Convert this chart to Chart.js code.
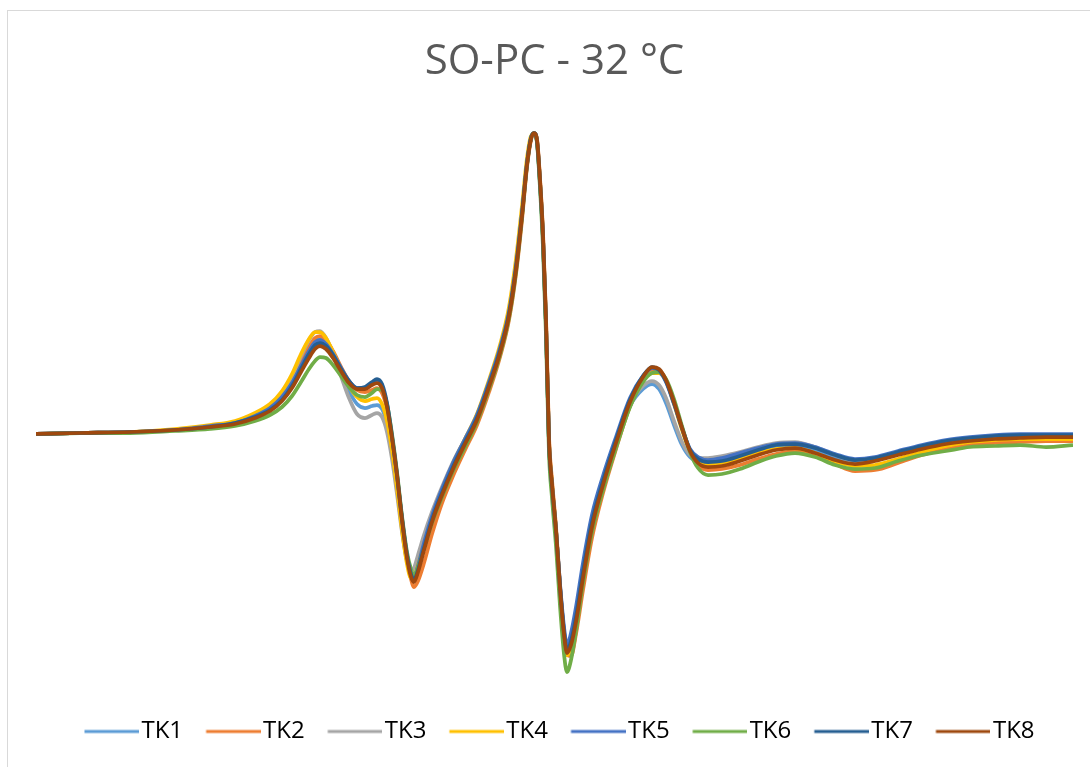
<!DOCTYPE html>
<html>
<head>
<meta charset="utf-8">
<script src="https://cdn.jsdelivr.net/npm/chart.js@4"></script>
<style>
  html, body { margin: 0; padding: 0; background: #fff; }
  #wrap { width: 1090px; height: 767px; }
</style>
</head>
<body>
<div id="wrap"><canvas id="c" width="1090" height="767"></canvas></div>
<script>
// Magnetic field (G)
const field = [3310.0, 3314.4, 3319.4, 3323.9, 3327.4, 3329.9, 3331.9, 3333.4, 3334.6, 3335.6,
  3336.5, 3337.3, 3337.9, 3338.4, 3339.0, 3339.7, 3340.5, 3341.3, 3342.1, 3342.9,
  3343.6, 3344.1, 3344.6, 3345.1, 3345.6, 3346.1, 3346.6, 3347.1, 3347.5, 3347.8,
  3348.2, 3348.8, 3349.6, 3350.6, 3351.7, 3352.9, 3354.1, 3355.3, 3356.4, 3357.3,
  3358.0, 3358.6, 3359.1, 3359.5, 3359.8, 3360.1, 3360.4, 3360.7, 3361.0, 3361.3,
  3361.6, 3362.0, 3362.4, 3362.8, 3363.1, 3363.5, 3364.0, 3364.7, 3365.6, 3366.7,
  3368.0, 3369.4, 3370.7, 3371.6, 3372.3, 3373.0, 3373.8, 3374.6, 3375.4, 3376.2,
  3377.2, 3378.6, 3380.4, 3382.2, 3384.0, 3385.9, 3387.9, 3389.9, 3391.9, 3393.9,
  3396.2, 3398.6, 3401.0, 3403.4, 3405.9, 3408.4, 3411.0, 3413.7];

const seriesNames = ["TK1", "TK2", "TK3", "TK4", "TK5", "TK6", "TK7", "TK8"];

const tk1 = [0,1,2,4,8,12,19,27,39,54, 72,87,95,96,91,79,61,43,30,26, 28,29,25,10,-18,-54,-94,-127,-142,-143,
  -130,-108,-82,-56,-31,-7,17,50,84,121, 167,220,270,296,301,293,252,196,110,-9,
  -52,-97,-153,-198,-216,-206,-181,-137,-89,-50, -11,28,45,50,45,31,9,-11,-23,-27,
  -27,-25,-21,-16,-12,-11,-16,-23,-28,-26, -20,-13,-8,-5,-4,-3,-3,-3];
const tk2 = [0,1,2,4,8,12,19,27,38,53, 71,87,96,98,94,83,67,53,44,42, 44,46,41,25,-5,-43,-86,-124,-145,-153,
  -147,-129,-100,-69,-42,-16,9,42,77,114, 160,214,267,294,301,295,256,202,118,-2,
  -46,-93,-151,-200,-221,-222,-200,-156,-104,-59, -15,28,55,64,63,54,32,6,-18,-31,
  -36,-35,-31,-25,-20,-17,-22,-30,-37,-36, -29,-21,-15,-11,-9,-8,-7,-7];
const tk3 = [0,1,2,4,8,12,20,29,42,58, 78,94,102,103,96,80,58,36,20,16, 19,21,17,2,-25,-60,-98,-127,-136,-134,
  -121,-101,-78,-53,-28,-5,19,51,85,122, 168,221,271,296,301,293,252,196,110,-9,
  -52,-97,-152,-197,-216,-207,-183,-139,-90,-50, -10,30,48,53,49,36,13,-8,-21,-24,
  -24,-22,-18,-13,-9,-8,-13,-21,-27,-26, -20,-14,-9,-6,-5,-4,-4,-4];
const tk4 = [0,1,2,5,9,13,21,30,43,60, 80,95,102,102,96,82,64,48,37,33, 35,36,30,13,-16,-54,-96,-130,-144,-144,
  -131,-111,-85,-57,-30,-5,20,54,89,127, 175,228,276,298,300,292,252,196,110,-8,
  -50,-96,-154,-202,-221,-212,-189,-145,-94,-53, -12,28,53,61,61,53,30,4,-17,-27,
  -30,-29,-25,-19,-15,-14,-19,-27,-32,-31, -25,-18,-12,-8,-6,-5,-5,-5];
const tk5 = [0,1,2,4,8,11,18,26,37,51, 68,83,92,94,90,80,66,53,46,46, 51,53,47,29,-3,-42,-85,-121,-139,-144,
  -132,-109,-82,-55,-29,-5,19,52,86,122, 168,221,271,296,301,292,250,194,108,-10,
  -52,-96,-150,-193,-211,-199,-173,-129,-81,-42, -3,36,58,66,63,52,30,6,-15,-23,
  -26,-24,-19,-14,-10,-9,-13,-20,-25,-23, -17,-11,-6,-3,-1,0,0,0];
const tk6 = [0,1,1,3,5,8,13,19,27,38, 52,65,73,77,76,69,58,47,39,37, 41,45,44,30,0,-38,-82,-118,-135,-141,
  -133,-115,-89,-63,-37,-13,12,45,79,116, 162,217,269,296,301,291,246,186,98,-20,
  -64,-112,-172,-220,-238,-226,-197,-149,-98,-56, -14,27,52,61,62,55,35,8,-18,-34,
  -41,-40,-35,-28,-22,-19,-23,-31,-35,-34, -27,-21,-17,-13,-12,-11,-13,-11];
const tk7 = [0,1,2,4,7,11,17,24,34,48, 65,80,89,91,88,79,65,53,46,47, 52,55,50,31,-2,-40,-84,-121,-140,-146,
  -136,-114,-86,-59,-33,-8,16,49,83,120, 166,220,270,296,301,293,252,196,110,-9,
  -52,-97,-153,-198,-216,-207,-183,-138,-88,-47, -6,34,58,67,64,53,31,6,-16,-25,
  -28,-27,-22,-16,-11,-10,-14,-21,-26,-24, -18,-12,-7,-4,-2,-1,-1,-1];
const tk8 = [0,1,2,4,7,10,16,23,33,46, 62,76,85,88,85,76,63,51,45,45, 49,51,46,27,-4,-41,-86,-124,-143,-148,
  -138,-116,-88,-61,-35,-10,14,47,81,118, 164,218,269,295,301,294,254,199,114,-6,
  -50,-96,-154,-200,-219,-211,-188,-144,-93,-51, -9,32,57,67,65,54,32,6,-17,-29,
  -33,-32,-27,-21,-16,-14,-19,-26,-30,-27, -21,-15,-10,-7,-5,-4,-3,-3];

const seriesValues = [tk1, tk2, tk3, tk4, tk5, tk6, tk7, tk8];
const colors = ["#5B9BD5", "#ED7D31", "#A5A5A5", "#FFC000", "#4472C4", "#70AD47", "#255E91", "#9E480E"];

function legendLine(color) {
  const cv = document.createElement('canvas');
  cv.width = 64; cv.height = 8;
  const g = cv.getContext('2d');
  g.strokeStyle = color; g.lineWidth = 3; g.lineCap = 'butt';
  g.beginPath(); g.moveTo(9.5, 4); g.lineTo(64, 4); g.stroke();
  return cv;
}
const legendImgs = colors.map(legendLine);

const datasets = seriesNames.map((name, i) => ({
  label: name,
  data: field.map((x, k) => ({ x: x, y: seriesValues[i][k] })),
  borderColor: colors[i],
  backgroundColor: colors[i],
  borderWidth: 3.75,
  pointRadius: 0,
  fill: false,
  cubicInterpolationMode: 'monotone',
  order: seriesNames.length - i
}));

const bgPlugin = {
  id: 'bg',
  afterLayout(chart) {
    // nudge the legend row slightly right, as in the original figure
    if (chart.legend) { chart.legend.left += 10; }
  },
  beforeDraw(chart) {
    const ctx = chart.ctx;
    ctx.save();
    ctx.fillStyle = '#ffffff';
    ctx.fillRect(0, 0, chart.width, chart.height);
    ctx.strokeStyle = '#d9d9d9';
    ctx.lineWidth = 1;
    ctx.strokeRect(7.5, 10.5, chart.width + 20, chart.height + 20);
    ctx.restore();
  }
};

new Chart(document.getElementById('c'), {
  type: 'line',
  data: { datasets },
  plugins: [bgPlugin],
  options: {
    responsive: false,
    animation: false,
    layout: { padding: { left: 36, right: 17, top: 0, bottom: 13.5 } },
    scales: {
      x: { type: 'linear', display: false, min: 3310.0, max: 3413.7 },
      y: { type: 'linear', display: false, min: -262.5, max: 330 }
    },
    plugins: {
      title: {
        display: true,
        text: 'SO-PC - 32 °C',
        color: '#595959',
        font: { family: 'Open Sans', size: 42, weight: 'normal' },
        padding: { top: 37, bottom: 16.6 }
      },
      legend: {
        display: true,
        position: 'bottom',
        labels: {
          sort: (a, b) => a.datasetIndex - b.datasetIndex,
          usePointStyle: true,
          pointStyleWidth: 45,
          padding: 23,
          color: '#000000',
          font: { family: 'Open Sans', size: 24 },
          generateLabels(chart) {
            const items = Chart.defaults.plugins.legend.labels.generateLabels(chart);
            items.forEach(it => { it.pointStyle = legendImgs[it.datasetIndex]; });
            return items;
          }
        }
      },
      tooltip: { enabled: false }
    }
  }
});
</script>
</body>
</html>
